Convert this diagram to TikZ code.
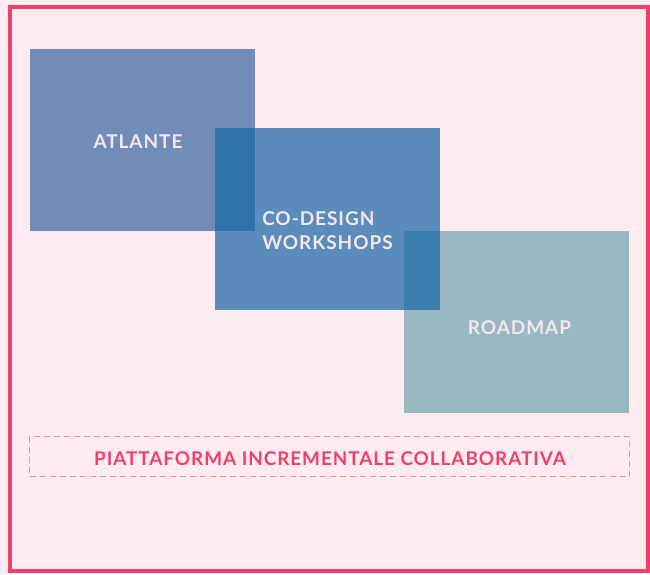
\documentclass[tikz,border=0pt]{standalone}
\usepackage{fontspec}
\setmainfont{Lato}[LetterSpace=5]
\definecolor{bg}{HTML}{FFEBF0}
\definecolor{framec}{HTML}{F43F6A}
\definecolor{dashc}{HTML}{F58CA5}
\definecolor{ca}{RGB}{54,101,161}
\definecolor{cb}{RGB}{21,102,166}
\definecolor{cc}{RGB}{109,165,174}
\definecolor{lbl}{HTML}{F6E6EF}
\definecolor{ptxt}{HTML}{F0416C}
\tikzset{
  blk/.style={draw=none, fill opacity=0.7, minimum width=225pt, minimum height=182pt, inner sep=0pt, anchor=north west},
  blabel/.style={text=lbl, font=\bfseries\fontsize{19}{24.5}\selectfont, inner sep=0pt, align=left},
}
\begin{document}
\begin{tikzpicture}[x=1pt,y=-1pt]
\fill[bg] (0,0) rectangle (650,574);
\useasboundingbox (0,0) rectangle (650,574);
\draw[framec, line width=4.2pt] (9.8,6.6) rectangle (647.6,571);
\node[blk, fill=ca] (atl) at (30,49) {};
\node[blk, fill=cc] (road) at (404,231) {};
\node[blk, fill=cb] (cod) at (215,128) {};
\node[blabel] (atlt) at (138,142) {ATLANTE};
\node[blabel] (codt) at (327.5,230.5) {CO-DESIGN\\WORKSHOPS};
\node[blabel] (roadt) at (519.5,327.5) {ROADMAP};
\node[draw=dashc, line width=1pt, dash pattern=on 6pt off 4pt, minimum width=600pt, minimum height=40pt, inner sep=0pt] (plat) at (329.5,456.5) {};
\node[text=ptxt, font=\bfseries\fontsize{18.9}{20}\selectfont, inner sep=0pt] (platt) at (330,458.5) {PIATTAFORMA INCREMENTALE COLLABORATIVA};
\end{tikzpicture}
\end{document}
